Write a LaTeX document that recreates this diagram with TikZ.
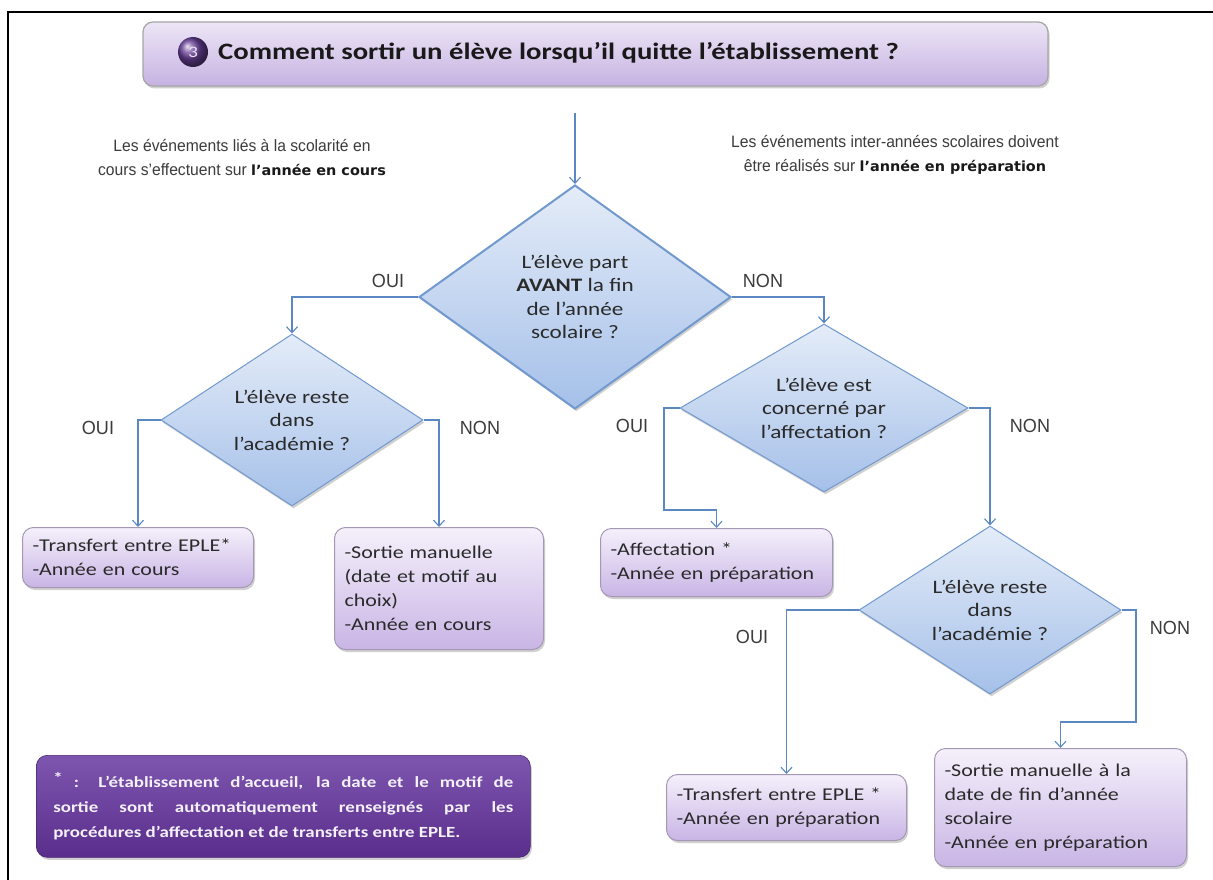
\documentclass[tikz,border=0pt]{standalone}
\usepackage{fontspec}
\setmainfont{Carlito}[FakeStretch=1.22]
\newfontfamily\arialf{Liberation Sans}[FakeStretch=0.95]
\newfontfamily\verdf{DejaVu Sans}[FakeStretch=1.03]
\usetikzlibrary{shapes.geometric,arrows.meta,shadows,calc}

\definecolor{conn}{HTML}{5B88C2}
\definecolor{dborder}{HTML}{7199CE}
\definecolor{dtop}{HTML}{E4ECF8}
\definecolor{dbot}{HTML}{A5C0E9}
\definecolor{btop}{HTML}{F5F0FB}
\definecolor{bbot}{HTML}{C9B5E5}
\definecolor{bborder}{HTML}{A598B5}
\definecolor{ftop}{HTML}{7D56AF}
\definecolor{fbot}{HTML}{5A2E8C}
\definecolor{ttop}{HTML}{EDE6F6}
\definecolor{tbot}{HTML}{C6B2E2}
\definecolor{numcol}{HTML}{6A4199}
\definecolor{txt}{HTML}{2A2A2A}
\definecolor{hdrtxt}{HTML}{3C3C3C}

\begin{document}
\begin{tikzpicture}[x=1pt,y=-1pt,
  softshadow/.style={drop shadow={shadow xshift=1.5pt,shadow yshift=-2.5pt,opacity=0.3,fill=black!60}},
  decision/.style={diamond, draw=dborder, line width=1pt, top color=dtop, bottom color=dbot,
    inner sep=0pt, align=center, text=txt, font=\fontsize{19}{23.5}\selectfont, softshadow},
  actbox/.style={rectangle, rounded corners=11pt, draw=bborder, line width=1pt,
    top color=btop, bottom color=bbot, align=left, text=txt,
    font=\fontsize{18}{24}\selectfont, inner xsep=10pt, inner ysep=4pt, anchor=north west, softshadow},
  conn/.style={draw=conn, line width=1.1pt, -{Straight Barb[length=6pt,width=11pt]}},
  lbl/.style={font=\arialf\fontsize{19}{22}\selectfont, text=hdrtxt},
  hdr/.style={align=center, text=hdrtxt, font=\arialf\fontsize{16.5}{24}\selectfont}
]
\useasboundingbox (0,0) rectangle (1213,880);
\fill[white] (0,0) rectangle (1213,880);
\draw[line width=1.6pt] (8,880) -- (8,12) -- (1213,12);

% title
\node[rectangle, rounded corners=10pt, draw=black!35, line width=1.2pt, top color=ttop, bottom color=tbot,
  minimum width=905pt, minimum height=64pt, softshadow] (title) at (595.5,54) {};
\node[circle, minimum width=30pt, minimum height=29pt, inner sep=0pt, ball color=numcol, text=white!85!numcol,
  font=\fontsize{16}{16}\selectfont] (num) at (193,52) {3};
\node[anchor=west, inner sep=0pt, text=black!90, font=\bfseries\fontsize{23.5}{26}\selectfont] (titletext) at (218,53)
  {Comment sortir un élève lorsqu’il quitte l’établissement ?};

% headers
\node[hdr] (hl) at (242,158) {Les événements liés à la scolarité en\\cours s’effectuent sur {\verdf\bfseries\fontsize{14}{24}\selectfont\color{black!90} l’année en cours}};
\node[hdr] (hr) at (895,155) {Les événements inter-années scolaires doivent\\être réalisés sur {\verdf\bfseries\fontsize{14}{24}\selectfont\color{black!90} l’année en préparation}};

% decisions
\coordinate (start) at (575,113);
\node[decision, minimum width=312pt, minimum height=224pt, aspect=1.39, line width=2pt] (d1) at (575,297)
  {L’élève part\\\textbf{AVANT} la fin\\de l’année\\scolaire ?};
\node[decision, minimum width=262pt, minimum height=172pt, aspect=1.52] (d2) at (292,420)
  {L’élève reste\\dans\\l’académie ?};
\node[decision, minimum width=288pt, minimum height=168pt, aspect=1.71] (d3) at (824,408)
  {L’élève est\\concerné par\\l’affectation ?};
\node[decision, minimum width=262pt, minimum height=168pt, aspect=1.56] (d4) at (990,610)
  {L’élève reste\\dans\\l’académie ?};

% result boxes
\node[actbox, minimum width=231pt, minimum height=60pt, text width=211pt] (bA) at (22,527)
  {-Transfert entre EPLE*\\-Année en cours};
\node[actbox, minimum width=209pt, minimum height=122pt, text width=189pt] (bB) at (334,527)
  {-Sortie manuelle\\(date et motif au\\choix)\\-Année en cours};
\node[actbox, minimum width=232pt, minimum height=68pt, text width=212pt] (bC) at (600,528)
  {-Affectation *\\-Année en préparation};
\node[actbox, minimum width=240pt, minimum height=66pt, text width=220pt] (bD) at (666,774)
  {-Transfert entre EPLE *\\-Année en préparation};
\node[actbox, minimum width=252pt, minimum height=118pt, text width=232pt] (bE) at (934,748)
  {-Sortie manuelle à la\\date de fin d’année\\scolaire\\-Année en préparation};

% footnote
\node[rectangle, rounded corners=11pt, top color=ftop, bottom color=fbot, draw=fbot!80!black, line width=0.6pt,
  minimum width=494pt, minimum height=102pt, anchor=north west, inner xsep=17pt, text=white!92!ftop,
  font=\bfseries\fontsize{15.5}{25}\selectfont, align=left, softshadow] (note) at (36,755)
  {\makebox[460pt][s]{\raisebox{4pt}{*} : L’établissement d’accueil, la date et le motif de}\\
   \makebox[460pt][s]{sortie sont automatiquement renseignés par les}\\
   procédures d’affectation et de transferts entre EPLE.};

% connectors
\coordinate (k1) at (664,510);
\coordinate (k2) at (1136,722);
\draw[conn] (start) -- (d1.north);
\draw[conn] (d1.west) -| (d2.north);
\draw[conn] (d1.east) -| (d3.north);
\draw[conn] (d2.west) -| (bA.north);
\draw[conn] (d2.east) -| (bB.north);
\draw[conn] (d3.west) -| (k1) -| (bC.north);
\draw[conn] (d3.east) -| (d4.north);
\draw[conn] (d4.west) -| (bD.north);
\draw[conn] (d4.east) -| (k2) -| (bE.north);

% labels
\node[lbl] (l1) at (388,281) {OUI};
\node[lbl] (l2) at (763,281) {NON};
\node[lbl] (l3) at (98,428) {OUI};
\node[lbl] (l4) at (480,428) {NON};
\node[lbl] (l5) at (632,426) {OUI};
\node[lbl] (l6) at (1030,426) {NON};
\node[lbl] (l7) at (752,637) {OUI};
\node[lbl] (l8) at (1170,628) {NON};
\end{tikzpicture}
\end{document}
